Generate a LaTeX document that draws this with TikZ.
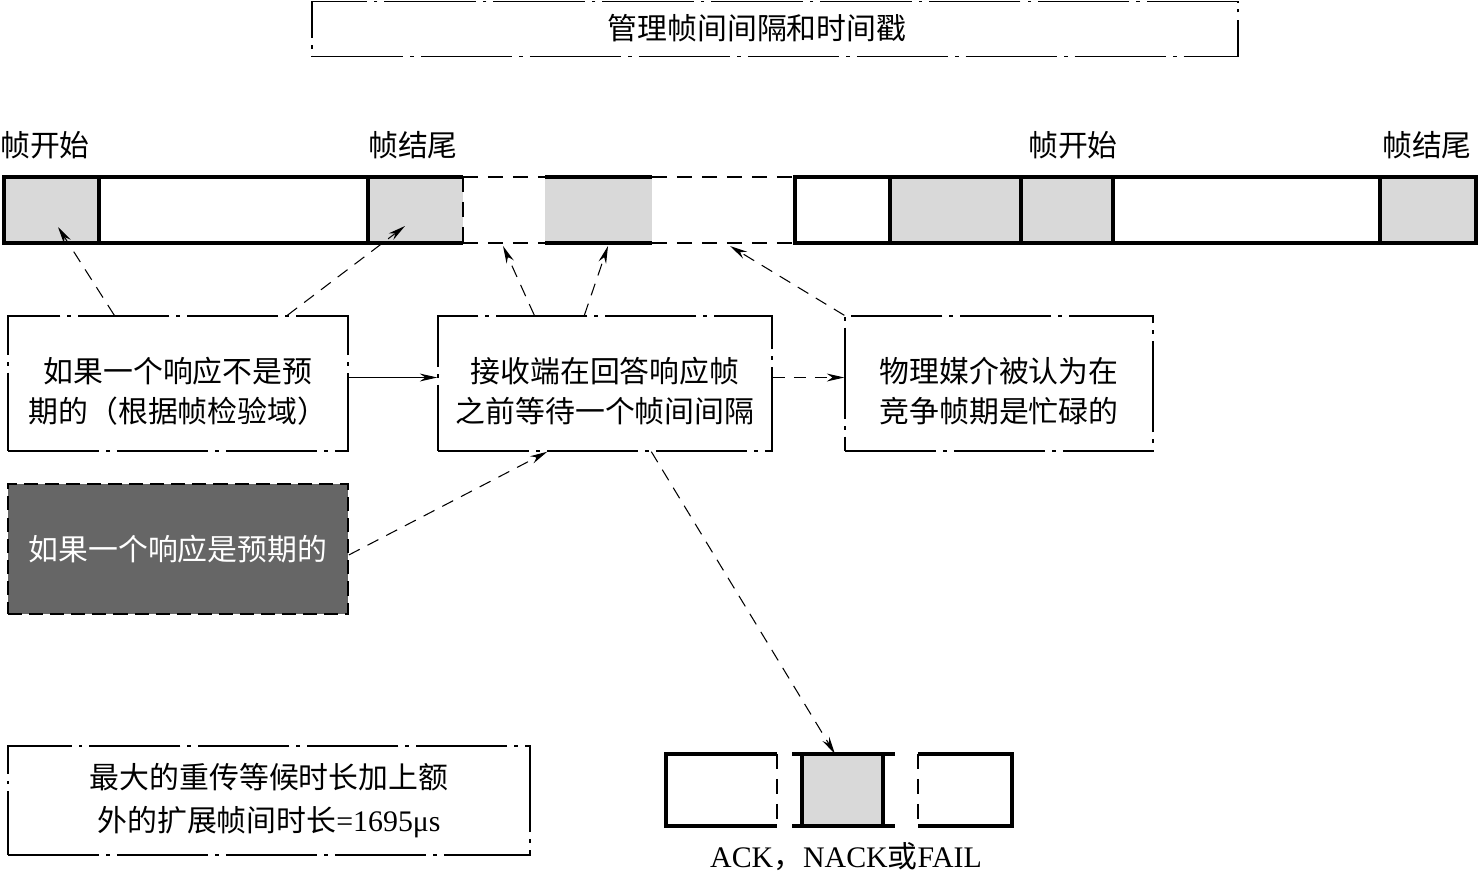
\documentclass[tikz,border=0pt]{standalone}
\usepackage{fontspec}
\setmainfont{Liberation Serif}
\newfontfamily\cjk{Noto Sans CJK SC}
\usetikzlibrary{arrows.meta,calc,positioning}
\definecolor{grisClair}{HTML}{D9D9D9}
\definecolor{grisFonce}{HTML}{666666}
\def\grisClair{grisClair}
\def\grisFonce{grisFonce}
\def\cale{\rule{0pt}{23pt}}

\begin{document}
\begin{tikzpicture}[x=0.02cm, y=-0.02cm,
  cadre/.style={draw, line width=0.8pt,
    dash pattern=on 52pt off 4pt on 2pt off 4pt,
    align=center, inner sep=0pt,
    font=\cjk\fontsize{17}{22.7}\selectfont},
  cadreFonce/.style={draw, line width=0.9pt, dash pattern=on 8pt off 4pt,
    fill=\grisFonce, text=white, inner sep=0pt,
    font=\cjk\fontsize{17}{22.7}\selectfont},
  etiquette/.style={font=\cjk\fontsize{17}{22.7}\selectfont, inner sep=0pt},
  fleche/.style={-{Stealth[length=10pt,width=4.5pt]}, line width=0.6pt,
    dash pattern=on 7pt off 5pt},
  flecheSolide/.style={-{Stealth[length=10pt,width=4.5pt]}, line width=0.6pt},
  trait/.style={line width=2.3pt},
  tiret/.style={line width=1.5pt, dash pattern=on 8.5pt off 5.7pt}
]
\useasboundingbox (0,0) rectangle (1478,873);

% Titre
\node[cadre, minimum width=18.52cm, minimum height=1.1cm] (titre) at (775,29) {};
\node[etiquette] (texteTitre) at (757,28) {管理帧间间隔和时间戳};

% Etiquettes des trames
\node[etiquette] (debutA) at (45,145) {帧开始};
\node[etiquette] (finA) at (413,145) {帧结尾};
\node[etiquette] (debutB) at (1073,145) {帧开始};
\node[etiquette] (finB) at (1427,145) {帧结尾};

% Cellules grises
\fill[\grisClair] (4,177) rectangle (99,243);
\fill[\grisClair] (368,177) rectangle (463,243);
\fill[\grisClair] (545,177) rectangle (652,243);
\fill[\grisClair] (890,177) rectangle (1113,243);
\fill[\grisClair] (1380,177) rectangle (1476,243);

% Trame de gauche
\draw[trait] (463,177) -- (4,177) -- (4,243) -- (463,243);
\foreach \x in {99,368}
  \draw[trait] (\x,177) -- (\x,243);
\draw[tiret] (463,177) -- (463,243);

% Intervalles en pointilles
\draw[tiret] (463,177) -- (545,177);
\draw[tiret] (463,243) -- (545,243);
\draw[trait] (545,177) -- (652,177);
\draw[trait] (545,243) -- (652,243);
\draw[tiret] (652,177) -- (795,177);
\draw[tiret] (652,243) -- (795,243);

% Trame de droite
\draw[trait] (795,177) rectangle (1476,243);
\foreach \x in {890,1021,1113,1380}
  \draw[trait] (\x,177) -- (\x,243);

% Cibles des fleches
\coordinate (cibleA) at (58,227);
\coordinate (cibleB) at (405,226);
\coordinate (cibleC) at (503,246);
\coordinate (cibleD) at (608,246);
\coordinate (cibleE) at (730,246);
\coordinate (cibleF) at (835,754);

% Boites
\node[cadre, minimum width=6.8cm, minimum height=2.7cm] (nonattendu) at (178,383.5)
  {\cale 如果一个响应不是预\\期的（根据帧检验域）};
\node[cadre, minimum width=6.68cm, minimum height=2.7cm] (attente) at (605,383.5)
  {\cale 接收端在回答响应帧\\之前等待一个帧间间隔};
\node[cadre, minimum width=6.16cm, minimum height=2.7cm] (occupe) at (999,383.5)
  {\cale 物理媒介被认为在\\竞争帧期是忙碌的};
\node[cadreFonce, minimum width=6.8cm, minimum height=2.6cm] (attendu) at (178,549)
  {如果一个响应是预期的};
\node[cadre, minimum width=10.44cm, minimum height=2.18cm] (delai) at (269,800.5)
  {最大的重传等候时长加上额\\[2pt]外的扩展帧间时长{\rmfamily =1695μs}};

% Trame de reponse
\fill[\grisClair] (802,754) rectangle (883,826);
\draw[trait] (777,754) -- (666,754) -- (666,826) -- (777,826);
\draw[tiret] (777,754) -- (777,826);
\draw[trait] (792,754) -- (895,754);
\draw[trait] (792,826) -- (895,826);
\foreach \x in {802,883}
  \draw[trait] (\x,754) -- (\x,826);
\draw[tiret] (918,754) -- (918,826);
\draw[trait] (918,754) -- (1012,754) -- (1012,826) -- (918,826);
\node[inner sep=0pt, font=\fontsize{17}{22.7}\selectfont] (reponse) at (846,857)
  {ACK{\cjk ，}NACK{\cjk 或}FAIL};

% Fleches
\draw[fleche] ($(nonattendu.north west)+(107,0)$) -- (cibleA);
\draw[fleche] ($(nonattendu.north west)+(280,0)$) -- (cibleB);
\draw[fleche] ($(attente.north west)+(97,0)$) -- (cibleC);
\draw[fleche] ($(attente.north west)+(147,0)$) -- (cibleD);
\draw[fleche] (occupe.north west) -- (cibleE);
\draw[flecheSolide] ($(nonattendu.east)+(0,-6)$) -- ($(attente.west)+(0,-6)$);
\draw[fleche] ($(attente.east)+(0,-6)$) -- ($(occupe.west)+(0,-6)$);
\draw[fleche] ($(attendu.east)+(0,6)$) -- ($(attente.south west)+(110,0)$);
\draw[fleche] ($(attente.south west)+(214,0)$) -- (cibleF);

\end{tikzpicture}
\end{document}
